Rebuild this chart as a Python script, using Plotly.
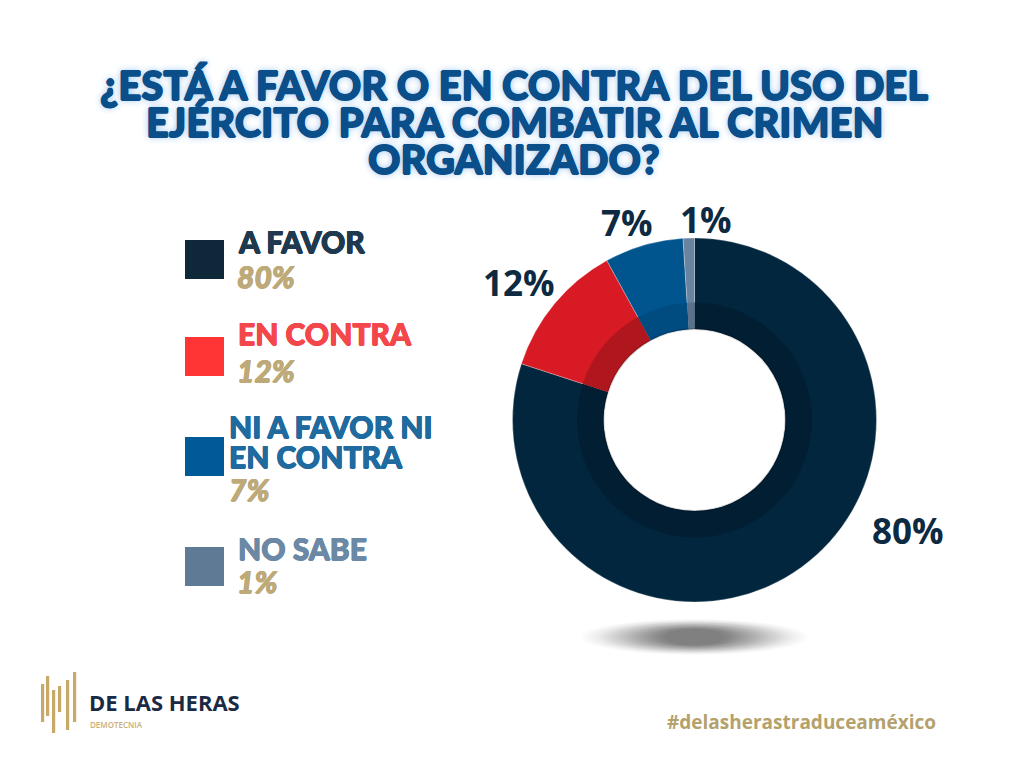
import plotly.graph_objects as go

# ---------------- data ----------------
categories = ["A FAVOR", "EN CONTRA", "NI A FAVOR NI EN CONTRA", "NO SABE"]
legend_lines = [["A FAVOR"], ["EN CONTRA"], ["NI A FAVOR NI", "EN CONTRA"], ["NO SABE"]]
values = [80, 12, 7, 1]
title_lines = ["¿ESTÁ A FAVOR O EN CONTRA DEL USO DEL",
               "EJÉRCITO PARA COMBATIR AL CRIMEN",
               "ORGANIZADO?"]
brand_name = "DE LAS HERAS"
brand_sub = "DEMOTECNIA"
hashtag = "#delasherastraduceaméxico"

# ---------------- styles ----------------
W, H = 1024, 768
slice_colors = ["#02263D", "#D81A24", "#00558F", "#6A84A0"]
inner_colors = ["#011E33", "#B0161E", "#004B80", "#59718A"]
square_colors = ["#0E2739", "#FF3535", "#005A98", "#5F7A95"]
label_colors = ["#1F3A4F", "#F4474C", "#1F6B9F", "#6B89A5"]
gold = "#BDAA78"
navy_txt = "#0D2A42"
title_color = "#0A4E8A"

def px(x, y):
    return x / W, 1 - y / H

def bold_shadow(color, d=1.0, extra=""):
    s = f"{d}px 0 0 {color}, -{d}px 0 0 {color}, 0 {d}px 0 {color}, 0 -{d}px 0 {color}"
    return s + (", " + extra if extra else "")

cx, cy, R = 694.5, 420.0, 182.0
R_inner, R_hole = 117.5, 91.0

fig = go.Figure()

# outer donut
x0, y1 = px(cx - R, cy - R)
x1, y0 = px(cx + R, cy + R)
fig.add_trace(go.Pie(
    labels=categories, values=values, sort=False, direction="clockwise",
    rotation=0, hole=R_hole / R, textinfo="none", hoverinfo="label+percent",
    marker=dict(colors=slice_colors, line=dict(color="rgba(255,255,255,0.35)", width=0.8)),
    domain=dict(x=[x0, x1], y=[y0, y1]), showlegend=False,
))
# darker inner ring
x0, y1 = px(cx - R_inner, cy - R_inner)
x1, y0 = px(cx + R_inner, cy + R_inner)
fig.add_trace(go.Pie(
    labels=categories, values=values, sort=False, direction="clockwise",
    rotation=0, hole=R_hole / R_inner, textinfo="none", hoverinfo="skip",
    marker=dict(colors=inner_colors, line=dict(width=0)),
    domain=dict(x=[x0, x1], y=[y0, y1]), showlegend=False,
))

shapes = []
annotations = []

# hole edge shadow
hx0, hy1 = px(cx - R_hole, cy - R_hole)
hx1, hy0 = px(cx + R_hole, cy + R_hole)
shapes.append(dict(type="circle", xref="paper", yref="paper", x0=hx0, x1=hx1, y0=hy0, y1=hy1,
                   line=dict(color="rgba(0,0,0,0.18)", width=2), layer="above"))

# floor shadow (soft gradient made of stacked ellipses)
n = 30
for i in range(n):
    f = i / (n - 1)
    w = 114 - f * 84
    h = 18 - f * 10
    a = 0.012 + 0.05 * f
    sx0, sy1 = px(cx - w, 637 - h)
    sx1, sy0 = px(cx + w, 637 + h)
    shapes.append(dict(type="circle", xref="paper", yref="paper", x0=sx0, x1=sx1, y0=sy0, y1=sy1,
                       fillcolor=f"rgba(80,80,80,{a:.3f})", line=dict(width=0), layer="below"))

# pie labels
pie_label_pos = [(908, 530), (519, 282), (627, 222), (706, 220)]
for v, (lx, ly) in zip(values, pie_label_pos):
    ax, ay = px(lx, ly)
    annotations.append(dict(x=ax, y=ay, xref="paper", yref="paper", text=f"{v}%", showarrow=False,
                            xanchor="center", yanchor="middle",
                            font=dict(family="Open Sans", size=35, weight=700, color=navy_txt)))

# title
title_y = [85, 122, 159]
for t, ty in zip(title_lines, title_y):
    ax, ay = px(514, ty)
    annotations.append(dict(x=ax, y=ay, xref="paper", yref="paper", text=t, showarrow=False,
                            xanchor="center", yanchor="middle",
                            font=dict(family="Lato", size=40, weight=900, color=title_color,
                                      shadow=bold_shadow(title_color, 0.8,
                                                         "0px 0px 7px rgba(130,180,235,0.95)"))))

# legend
sq_top = [241, 338, 438, 548]
line_y = [[241], [333], [426, 456], [548]]
pct_y = [276, 370, 489, 581]
txt_x = [236, 236, 227, 236]
pct_x = [235, 235, 227, 235]
for i, v in enumerate(values):
    sx0, sy1 = px(186, sq_top[i])
    sx1, sy0 = px(223, sq_top[i] + 37)
    shapes.append(dict(type="rect", xref="paper", yref="paper", x0=sx0, x1=sx1, y0=sy0, y1=sy1,
                       fillcolor=square_colors[i], line=dict(color=square_colors[i], width=2)))
    for t, ly in zip(legend_lines[i], line_y[i]):
        ax, ay = px(txt_x[i], ly)
        annotations.append(dict(x=ax, y=ay, xref="paper", yref="paper", text=t, showarrow=False,
                                xanchor="left", yanchor="middle",
                                font=dict(family="Lato", size=30, weight=900, color=label_colors[i],
                                          shadow=bold_shadow(label_colors[i], 0.5))))
    ax, ay = px(pct_x[i], pct_y[i])
    annotations.append(dict(x=ax, y=ay, xref="paper", yref="paper", text=f"{v}%", showarrow=False,
                            xanchor="left", yanchor="middle",
                            font=dict(family="Lato", size=30, weight=900, style="italic", color=gold,
                                      shadow=bold_shadow(gold, 0.5))))

# logo icon (decorative gold bars)
bars = [(41, 684, 722), (46, 676, 716), (52, 690, 733), (58, 686, 712), (66, 680, 730), (73, 672, 722)]
for bx, by0, by1 in bars:
    a0, b1 = px(bx, by0)
    a1, b0 = px(bx + 3.2, by1)
    shapes.append(dict(type="rect", xref="paper", yref="paper", x0=a0, x1=a1, y0=b0, y1=b1,
                       fillcolor="#C9A968", line=dict(width=0)))
ax, ay = px(87, 702)
annotations.append(dict(x=ax, y=ay, xref="paper", yref="paper", text=brand_name, showarrow=False,
                        xanchor="left", yanchor="middle",
                        font=dict(family="Open Sans", size=22, weight=700, color="#1B2A44")))
ax, ay = px(88, 724)
annotations.append(dict(x=ax, y=ay, xref="paper", yref="paper", text=brand_sub, showarrow=False,
                        xanchor="left", yanchor="middle",
                        font=dict(family="Open Sans", size=8, weight=600, color="#C9AE78")))
# hashtag
ax, ay = px(801, 722)
annotations.append(dict(x=ax, y=ay, xref="paper", yref="paper", text=hashtag, showarrow=False,
                        xanchor="center", yanchor="middle",
                        font=dict(family="Open Sans", size=19, weight=700, color="#B4A16C")))

fig.update_layout(
    width=W, height=H, margin=dict(l=0, r=0, t=0, b=0),
    paper_bgcolor="white", plot_bgcolor="white",
    shapes=shapes, annotations=annotations, showlegend=False,
)
fig.write_html("out.html")
